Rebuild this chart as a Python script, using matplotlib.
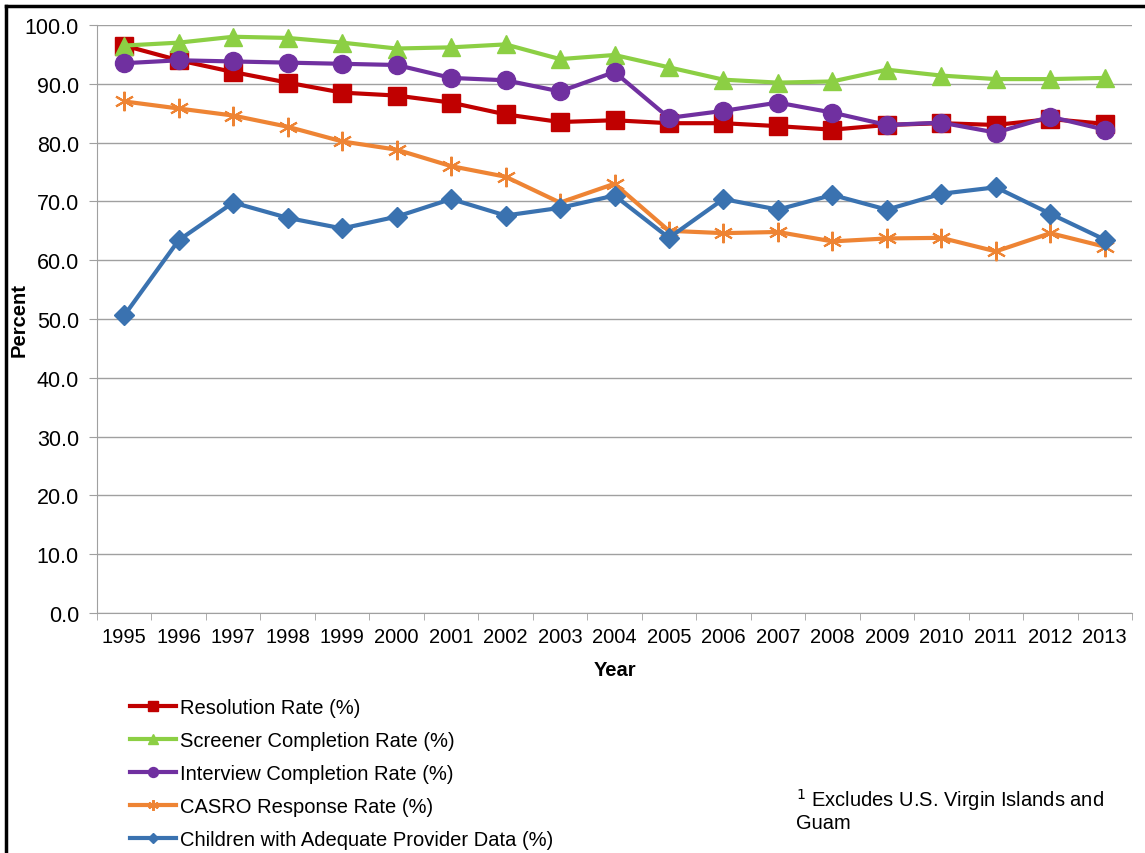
import matplotlib.pyplot as plt
import numpy as np
from matplotlib.lines import Line2D

plt.rcParams['font.family'] = ['Liberation Sans', 'DejaVu Sans']

years = [str(y) for y in range(1995, 2014)]

resolution = [96.5, 94.0, 92.0, 90.2, 88.5, 88.0, 86.8, 84.8, 83.5, 83.8,
              83.3, 83.3, 82.8, 82.2, 83.0, 83.3, 83.0, 84.0, 83.2]
screener = [96.5, 97.0, 98.0, 97.8, 97.0, 96.0, 96.2, 96.7, 94.2, 94.9,
            92.8, 90.7, 90.2, 90.4, 92.4, 91.4, 90.8, 90.8, 91.0]
interview = [93.5, 94.0, 93.8, 93.6, 93.4, 93.2, 91.0, 90.6, 88.7, 92.0,
             84.2, 85.4, 86.8, 85.1, 83.0, 83.4, 81.7, 84.4, 82.2]
casro = [87.0, 85.8, 84.6, 82.7, 80.2, 78.8, 76.0, 74.2, 69.8, 73.0,
         65.0, 64.6, 64.8, 63.2, 63.7, 63.8, 61.5, 64.6, 62.3]
children = [50.6, 63.4, 69.8, 67.2, 65.4, 67.4, 70.4, 67.6, 68.9, 71.0,
            63.8, 70.4, 68.6, 71.1, 68.6, 71.3, 72.4, 67.9, 63.5]

labels = ['Resolution Rate (%)', 'Screener Completion Rate (%)',
          'Interview Completion Rate (%)', 'CASRO Response Rate (%)',
          'Children with Adequate Provider Data (%)']

fig = plt.figure(figsize=(11.45, 8.54), dpi=100)
ax = fig.add_axes([97/1145, 1 - 614/854, 1035/1145, 588/854])

x = np.arange(len(years))
lw = 3
h1, = ax.plot(x, resolution, color='#C00000', lw=lw, marker='s', ms=13, zorder=3)
h2, = ax.plot(x, screener, color='#8CCF44', lw=lw, marker='^', ms=13, zorder=4)
h3, = ax.plot(x, interview, color='#7030A0', lw=lw, marker='o', ms=13, zorder=5)
h4, = ax.plot(x, casro, color='#EE8434', lw=lw, marker=(6, 2, 0), ms=14, mew=1.5, zorder=6)
h5, = ax.plot(x, children, color='#3A72B0', lw=lw, marker='D', ms=10, zorder=7)

ax.set_xlim(-0.5, len(years) - 0.5)
ax.set_ylim(0, 100)
ax.set_yticks(np.arange(0, 101, 10))
ax.set_yticklabels(['%.1f' % v for v in np.arange(0, 101, 10)], fontsize=15.5)
ax.set_xticks(x)
ax.set_xticklabels(years, fontsize=14.5)
ax.set_xticks(np.arange(-0.5, len(years), 1), minor=True)
ax.tick_params(axis='x', which='major', length=0, pad=10)
ax.tick_params(axis='x', which='minor', length=5, color='#A0A0A0')
ax.tick_params(axis='y', length=6, color='#A0A0A0', pad=7)
ax.grid(axis='y', color='#A0A0A0', lw=1)
ax.set_axisbelow(True)
for s in ['top', 'right']:
    ax.spines[s].set_visible(False)
for s in ['left', 'bottom']:
    ax.spines[s].set_color('#A0A0A0')

ax.set_xlabel('Year', fontsize=14.5, fontweight='bold', labelpad=10)
ax.set_ylabel('Percent', fontsize=14.5, fontweight='bold')
ax.yaxis.set_label_coords(-0.0665, 0.5)

fig.legend([h1, h2, h3, h4, h5], labels, loc='upper left',
           bbox_to_anchor=(120/1145, 1 - 689/854), frameon=False,
           fontsize=14.5, handlelength=2.3, handletextpad=0.2,
           labelspacing=0.7, borderpad=0, markerscale=0.55)

fig.text(796/1145, 1 - 787/854, '$^1$ Excludes U.S. Virgin Islands and\nGuam',
         fontsize=14.5, va='top', ha='left', linespacing=1.1)

# black frame lines (top and left)
fig.add_artist(Line2D([6/1145, 6/1145], [0, 1 - 7/854], color='black', lw=2.5,
                      transform=fig.transFigure))
fig.add_artist(Line2D([6/1145, 1], [1 - 7/854, 1 - 7/854], color='black', lw=2.5,
                      transform=fig.transFigure))

fig.savefig('out.png', dpi=100)
